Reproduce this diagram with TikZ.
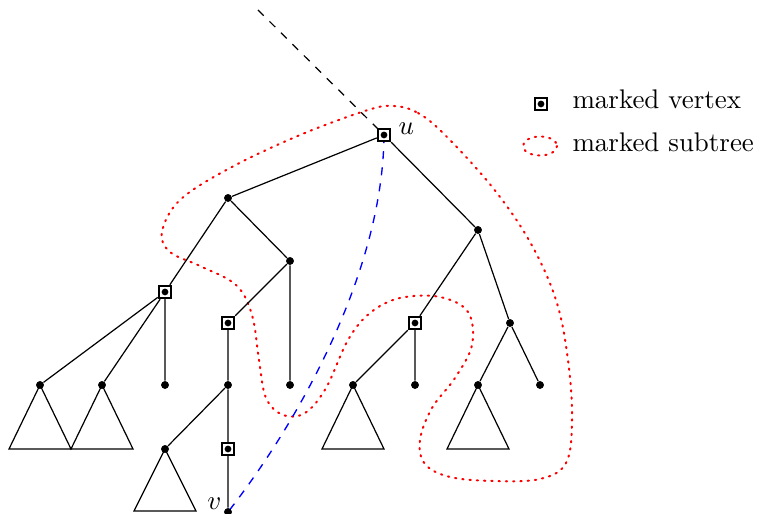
\documentclass[tikz,border=0pt]{standalone}
\usetikzlibrary{shapes.geometric}
\begin{document}
\begin{tikzpicture}[x=0.01305cm,y=-0.01305cm,
  vtx/.style={circle,fill=black,inner sep=0pt,minimum size=2.8pt},
  markedvtx/.style={rectangle,draw=black,line width=0.85pt,inner sep=0pt,minimum size=4.5pt,
    fill=white,path picture={\fill[black] (path picture bounding box.center) circle (1.25pt);}},
  edge/.style={line width=0.45pt},
  subtree/.style={red,line width=0.75pt,dash pattern=on 0.5pt off 2.2pt,line cap=round},
  pathline/.style={blue,dashed,line width=0.5pt},
  treeleaf/.style={line width=0.45pt},
  lbl/.style={inner sep=0pt,font=\normalsize}]
\useasboundingbox (0,0) rectangle (758,514);

% vertices
\coordinate (top) at (258,10);
\node[markedvtx] (u) at (384,135) {};
\node[vtx] (a) at (228,198) {};
\node[vtx] (b) at (478,230) {};
\node[markedvtx] (c) at (165,292) {};
\node[vtx] (d) at (290,261) {};
\node[vtx] (l1) at (40,385) {};
\node[vtx] (l2) at (102,385) {};
\node[vtx] (l3) at (165,385) {};
\node[markedvtx] (e) at (228,323) {};
\node[vtx] (l4) at (290,385) {};
\node[vtx] (f) at (228,385) {};
\node[vtx] (g) at (165,449) {};
\node[markedvtx] (h) at (228,449) {};
\node[vtx] (v) at (228,512) {};
\node[markedvtx] (i) at (415,323) {};
\node[vtx] (j) at (510,323) {};
\node[vtx] (l5) at (353,385) {};
\node[vtx] (l6) at (415,385) {};
\node[vtx] (l7) at (478,385) {};
\node[vtx] (l8) at (540,385) {};

% the marked subtree around u
\draw[subtree] plot[smooth cycle,tension=0.6] coordinates {
  (394,106) (418,113) (445,135) (493,188) (530,242) (556,300) (568,360) (572,420)
  (566,463) (540,479) (493,481) (450,477) (425,464) (420,440) (432,408)
  (455,378) (472,345) (468,312) (440,297) (400,298) (370,313) (348,340)
  (326,388) (305,413) (283,415) (266,398) (259,360) (252,315) (236,285)
  (200,266) (170,252) (162,232) (180,200) (230,168) (300,135) (368,110)};

% edges of the tree
\draw[black,dashed,line width=0.45pt] (top) -- (u.center);
\draw[edge] (u) -- (a) (u) -- (b)
  (a) -- (c) (a) -- (d)
  (c) -- (l1) (c) -- (l2) (c) -- (l3)
  (d) -- (e) (d) -- (l4)
  (e) -- (f) (f) -- (g) (f) -- (h) (h) -- (v)
  (b) -- (i) (b) -- (j)
  (i) -- (l5) (i) -- (l6)
  (j) -- (l7) (j) -- (l8);

% subtrees hanging below leaves
\foreach \t/\dy in {l1/64,l2/64,g/62,l5/64,l7/64}
  \draw[treeleaf] (\t.center) -- ++(-31,\dy) -- ++(62,0) -- cycle;

% path from u down to v
\draw[pathline] (u.center) .. controls (383,270) and (300,420) .. (v.center);

% redraw vertices above the lines
\foreach \n in {a,b,d,l1,l2,l3,l4,f,g,v,j,l5,l6,l7,l8}
  \fill (\n) circle (1.4pt);
\foreach \n in {u,c,e,h,i}
  \node[markedvtx] at (\n) {};

% labels
\node[lbl,anchor=base west] (ulbl) at (398,135) {$u$};
\node[lbl,anchor=base east] (vlbl) at (222,510) {$v$};

% legend
\node[markedvtx] (legmark) at (541,104) {};
\node[lbl,anchor=base west] (legmarktxt) at (572,109) {marked vertex};
\draw[subtree] (540,146) ellipse (17 and 9.5);
\node[lbl,anchor=base west] (legsubtxt) at (572,152) {marked subtree};
\end{tikzpicture}
\end{document}
